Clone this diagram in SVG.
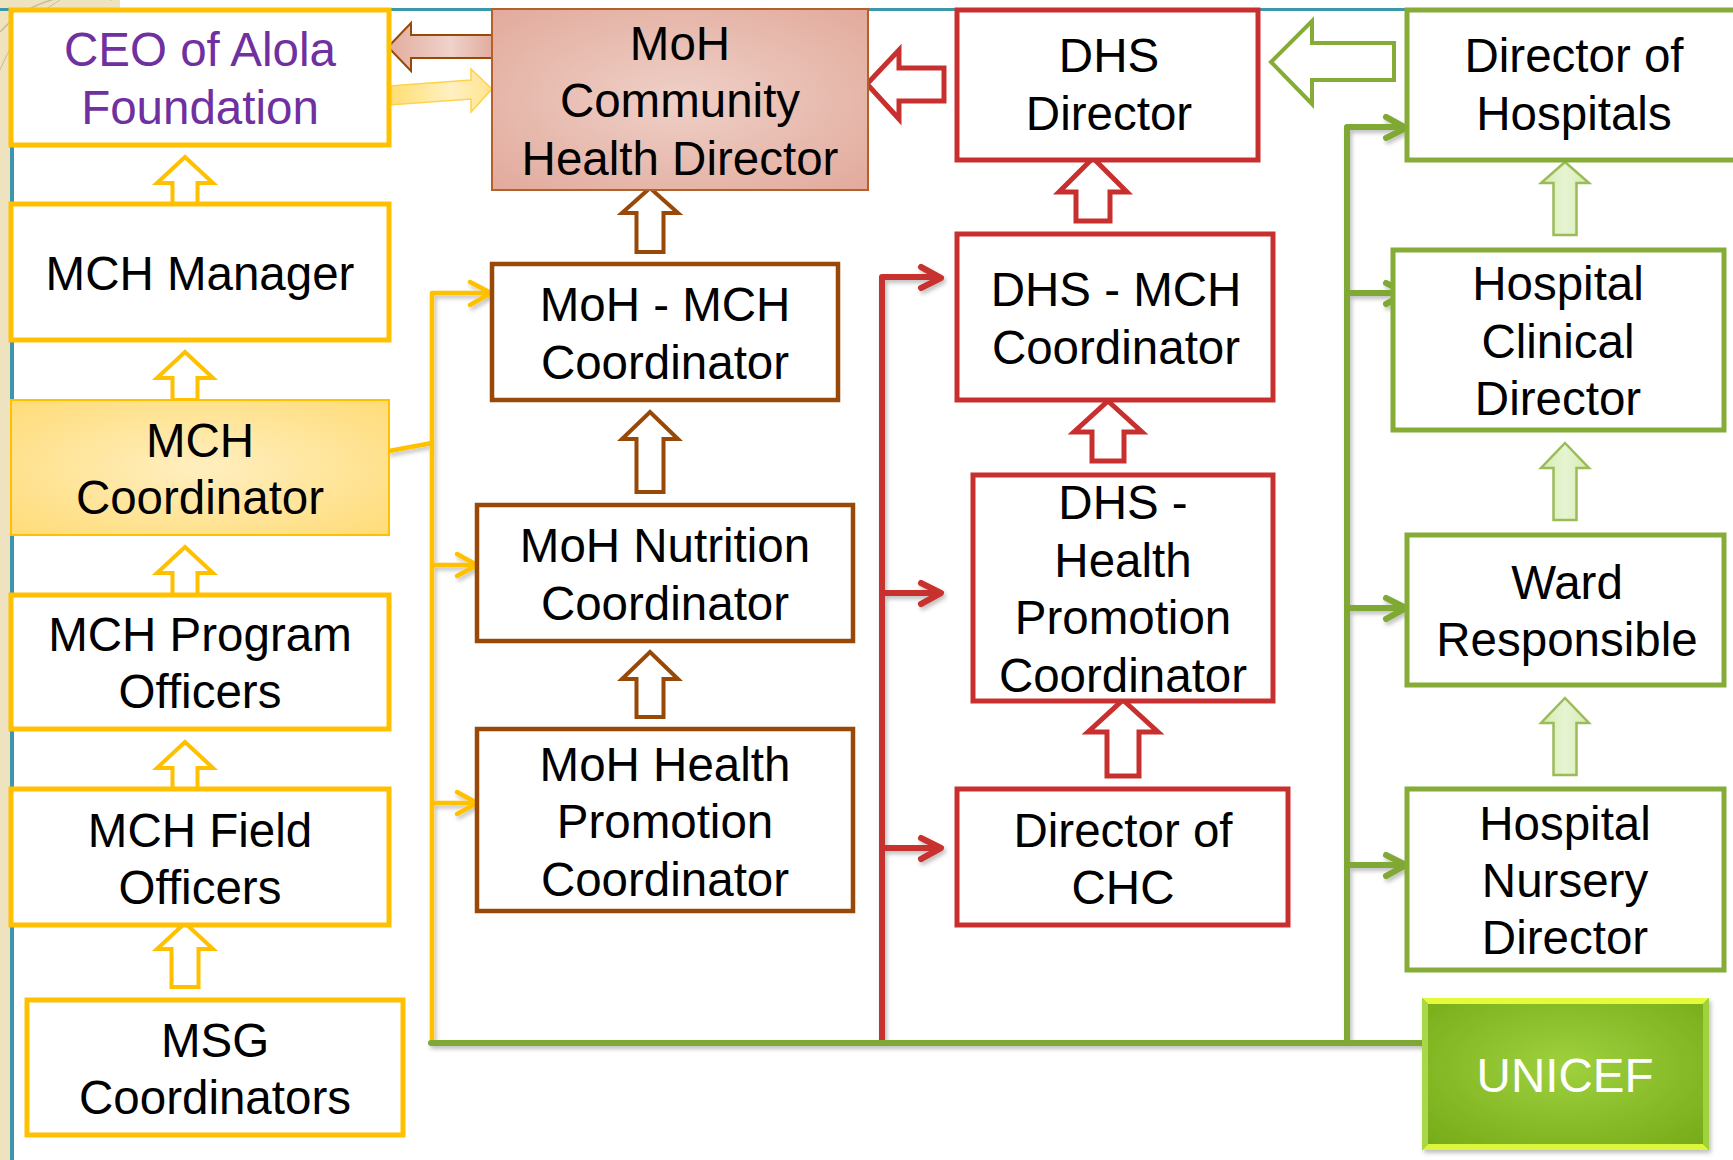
<svg xmlns="http://www.w3.org/2000/svg" width="1733" height="1160" viewBox="0 0 1733 1160">
<defs>
<style>
text{font-family:"Liberation Sans",Arial,sans-serif;font-size:47.5px;fill:#000;text-anchor:middle}
.yb{fill:#fff;stroke:#FFC000;stroke-width:5}
.bb{fill:#fff;stroke:#984807;stroke-width:4.5}
.rb{fill:#fff;stroke:#C8302F;stroke-width:5}
.gb{fill:#fff;stroke:#84AC36;stroke-width:5}
.ya{fill:#fff;stroke:#FFC000;stroke-width:4;stroke-linejoin:miter}
.ba{fill:#fff;stroke:#984807;stroke-width:4}
.ra{fill:#fff;stroke:#C8302F;stroke-width:5}
.ga{fill:url(#gGreenArrow);stroke:#9BBB59;stroke-width:2.5}
.cy{fill:none;stroke:#FFC000;stroke-width:4.5;stroke-linecap:round;stroke-linejoin:round}
.cr{fill:none;stroke:#C8302F;stroke-width:6;stroke-linecap:round;stroke-linejoin:round}
.cg{fill:none;stroke:#7FA834;stroke-width:6;stroke-linecap:round;stroke-linejoin:round}
</style>
<radialGradient id="gMCH" cx="0.5" cy="0.5" r="0.7">
<stop offset="0" stop-color="#FFEFC0"/><stop offset="1" stop-color="#FFDC78"/>
</radialGradient>
<radialGradient id="gMoH" cx="0.5" cy="0.5" r="0.7">
<stop offset="0" stop-color="#EFD0C7"/><stop offset="1" stop-color="#E2AA9C"/>
</radialGradient>
<linearGradient id="gPinkArrow" x1="0" y1="0" x2="1" y2="0">
<stop offset="0" stop-color="#E3AC9E"/><stop offset="0.6" stop-color="#EFD2CA"/><stop offset="1" stop-color="#E3AC9E"/>
</linearGradient>
<linearGradient id="gYellowArrow" x1="0" y1="0" x2="1" y2="0">
<stop offset="0" stop-color="#FFDE70"/><stop offset="0.6" stop-color="#FFF0C2"/><stop offset="1" stop-color="#FFE490"/>
</linearGradient>
<linearGradient id="gGreenArrow" x1="0" y1="0" x2="1" y2="0">
<stop offset="0" stop-color="#D4ECB0"/><stop offset="0.5" stop-color="#E6F4D2"/><stop offset="1" stop-color="#D4ECB0"/>
</linearGradient>
<radialGradient id="gUnicef" cx="0.5" cy="0.45" r="0.7">
<stop offset="0" stop-color="#9FD13E"/><stop offset="1" stop-color="#76AB18"/>
</radialGradient>
<filter id="sh" x="-10%" y="-10%" width="130%" height="130%">
<feDropShadow dx="2" dy="3" stdDeviation="2" flood-color="#000" flood-opacity="0.25"/>
</filter>
</defs>

<!-- background and frame decoration -->
<rect x="0" y="0" width="1733" height="1160" fill="#fff"/>
<rect x="0" y="0" width="11" height="1160" fill="#EFE2BE"/>
<rect x="0" y="0" width="120" height="9" fill="#EFE2BE"/>
<path d="M0,32 A110,110 0 0 1 112,0" fill="none" stroke="#C9BC9C" stroke-width="1.5"/>
<path d="M0,70 A140,140 0 0 1 60,0" fill="none" stroke="#C9BC9C" stroke-width="1"/>
<line x1="0" y1="9.5" x2="1733" y2="9.5" stroke="#3C97AC" stroke-width="3"/>
<line x1="12" y1="9" x2="12" y2="1160" stroke="#3C97AC" stroke-width="4"/>

<!-- connectors -->
<g id="connectors" filter="url(#sh)">
<path class="cy" d="M432,1043 V293 H488"/>
<path class="cy" d="M470,282 L491,293 L470,305"/>
<path class="cy" d="M432,565 H474"/>
<path class="cy" d="M457,554 L477,565 L457,576"/>
<path class="cy" d="M432,803 H474"/>
<path class="cy" d="M457,792 L477,803 L457,814"/>
<path class="cy" d="M389,451 L432,443"/>

<path class="cr" d="M882,1043 V277 H938"/>
<path class="cr" d="M921,267 L941,278 L921,288"/>
<path class="cr" d="M882,593 H938"/>
<path class="cr" d="M921,583 L941,593 L921,604"/>
<path class="cr" d="M882,848 H938"/>
<path class="cr" d="M921,838 L941,848 L921,859"/>

<path class="cg" d="M1347,1043 V127 H1403"/>
<path class="cg" d="M1386,117 L1406,128 L1386,138"/>
<path class="cg" d="M1347,293 H1403"/>
<path class="cg" d="M1386,283 L1406,293 L1386,304"/>
<path class="cg" d="M1347,608 H1403"/>
<path class="cg" d="M1386,598 L1406,608 L1386,619"/>
<path class="cg" d="M1347,865 H1403"/>
<path class="cg" d="M1386,855 L1406,865 L1386,876"/>
<path class="cg" d="M431,1043 H1422"/>
</g>

<!-- block arrows -->
<g id="block-arrows">
<path class="ya" d="M185,157 L213,183 L197.5,183 L197.5,204 L172.5,204 L172.5,183 L157,183 Z"/>
<path class="ya" d="M185,352 L213,378 L197.5,378 L197.5,400 L172.5,400 L172.5,378 L157,378 Z"/>
<path class="ya" d="M185,547 L213,573 L197.5,573 L197.5,595 L172.5,595 L172.5,573 L157,573 Z"/>
<path class="ya" d="M185,742 L213,768 L197.5,768 L197.5,789 L172.5,789 L172.5,768 L157,768 Z"/>
<path class="ya" d="M185,923 L213,949 L198.5,949 L198.5,987 L171.5,987 L171.5,949 L157,949 Z"/>

<path class="ba" d="M650,188 L678,213 L663.5,213 L663.5,252 L636.5,252 L636.5,213 L622,213 Z"/>
<path class="ba" d="M650,412 L678,439 L663.5,439 L663.5,492 L636.5,492 L636.5,439 L622,439 Z"/>
<path class="ba" d="M650,652 L678,679 L663.5,679 L663.5,717 L636.5,717 L636.5,679 L622,679 Z"/>

<path class="ra" d="M1093,158 L1127,192 L1110,192 L1110,221 L1076,221 L1076,192 L1059,192 Z"/>
<path class="ra" d="M1108,401 L1142,432 L1124,432 L1124,461 L1092,461 L1092,432 L1074,432 Z"/>
<path class="ra" d="M1123,700 L1158,732 L1139,732 L1139,776 L1107,776 L1107,732 L1088,732 Z"/>

<path class="ga" d="M1565,162 L1589,183 L1576.5,183 L1576.5,235 L1553.5,235 L1553.5,183 L1541,183 Z"/>
<path class="ga" d="M1565,443 L1589,468 L1576.5,468 L1576.5,520 L1553.5,520 L1553.5,468 L1541,468 Z"/>
<path class="ga" d="M1565,698 L1589,723 L1576.5,723 L1576.5,775 L1553.5,775 L1553.5,723 L1541,723 Z"/>

<path d="M388,47 L411,23 L411,35 L492,35 L492,58 L411,58 L411,71 Z" fill="url(#gPinkArrow)" stroke="#984807" stroke-width="2"/>
<path d="M389,86 L471,80 L471,69 L492,89 L471,112 L471,99 L389,105 Z" fill="url(#gYellowArrow)" stroke="#FFD24A" stroke-width="1.5"/>
<path class="ra" d="M867,84 L899,50 L899,68 L944,68 L944,101 L899,101 L899,119 Z"/>
<path d="M1271,62 L1312,21 L1312,43 L1394,43 L1394,80 L1312,80 L1312,104 Z" fill="#fff" stroke="#84AC36" stroke-width="4"/>
</g>

<!-- nodes: left column -->
<g id="ceo">
<rect class="yb" x="11" y="10" width="378" height="135"/>
<text x="200" y="66" fill="#7030A0" style="fill:#7030A0">CEO of Alola</text>
<text x="200" y="124" style="fill:#7030A0">Foundation</text>
</g>
<g id="mch-manager">
<rect class="yb" x="11" y="204" width="378" height="136"/>
<text x="200" y="290">MCH Manager</text>
</g>
<g id="mch-coordinator">
<rect x="11" y="400" width="378" height="135" fill="url(#gMCH)" stroke="#FFC000" stroke-width="2"/>
<text x="200" y="457">MCH</text>
<text x="200" y="514">Coordinator</text>
</g>
<g id="mch-program-officers">
<rect class="yb" x="11" y="595" width="378" height="134"/>
<text x="200" y="651">MCH Program</text>
<text x="200" y="708">Officers</text>
</g>
<g id="mch-field-officers">
<rect class="yb" x="11" y="789" width="378" height="136"/>
<text x="200" y="847">MCH Field</text>
<text x="200" y="904">Officers</text>
</g>
<g id="msg-coordinators">
<rect class="yb" x="27" y="1000" width="376" height="135"/>
<text x="215" y="1057">MSG</text>
<text x="215" y="1114">Coordinators</text>
</g>

<!-- nodes: MoH column -->
<g id="moh-chd">
<rect x="492" y="9" width="376" height="181" fill="url(#gMoH)" stroke="#B5602A" stroke-width="2"/>
<text x="680" y="60">MoH</text>
<text x="680" y="117">Community</text>
<text x="680" y="175">Health Director</text>
</g>
<g id="moh-mch">
<rect class="bb" x="492" y="264" width="346" height="136"/>
<text x="665" y="321">MoH - MCH</text>
<text x="665" y="379">Coordinator</text>
</g>
<g id="moh-nutrition">
<rect class="bb" x="477" y="505" width="376" height="136"/>
<text x="665" y="562">MoH Nutrition</text>
<text x="665" y="620">Coordinator</text>
</g>
<g id="moh-hp">
<rect class="bb" x="477" y="729" width="376" height="182"/>
<text x="665" y="781">MoH Health</text>
<text x="665" y="838">Promotion</text>
<text x="665" y="896">Coordinator</text>
</g>

<!-- nodes: DHS column -->
<g id="dhs-director">
<rect class="rb" x="957" y="10" width="301" height="150"/>
<text x="1109" y="72">DHS</text>
<text x="1109" y="130">Director</text>
</g>
<g id="dhs-mch">
<rect class="rb" x="957" y="234" width="316" height="166"/>
<text x="1116" y="306">DHS - MCH</text>
<text x="1116" y="364">Coordinator</text>
</g>
<g id="dhs-hp">
<rect class="rb" x="973" y="475" width="300" height="226"/>
<text x="1123" y="519">DHS -</text>
<text x="1123" y="577">Health</text>
<text x="1123" y="634">Promotion</text>
<text x="1123" y="692">Coordinator</text>
</g>
<g id="director-chc">
<rect class="rb" x="957" y="789" width="331" height="136"/>
<text x="1123" y="847">Director of</text>
<text x="1123" y="904">CHC</text>
</g>

<!-- nodes: hospital column -->
<g id="director-hospitals">
<rect class="gb" x="1407" y="10" width="340" height="150"/>
<text x="1574" y="72">Director of</text>
<text x="1574" y="130">Hospitals</text>
</g>
<g id="hospital-clinical">
<rect class="gb" x="1393" y="250" width="331" height="180"/>
<text x="1558" y="300">Hospital</text>
<text x="1558" y="358">Clinical</text>
<text x="1558" y="415">Director</text>
</g>
<g id="ward-responsible">
<rect class="gb" x="1407" y="535" width="317" height="150"/>
<text x="1567" y="599">Ward</text>
<text x="1567" y="656">Responsible</text>
</g>
<g id="hospital-nursery">
<rect class="gb" x="1407" y="789" width="317" height="181"/>
<text x="1565" y="840">Hospital</text>
<text x="1565" y="897">Nursery</text>
<text x="1565" y="954">Director</text>
</g>
<g id="unicef">
<rect x="1422" y="998" width="287" height="152" fill="url(#gUnicef)" filter="url(#sh)"/>
<polygon points="1422,998 1709,998 1703,1004 1428,1004" fill="#E4FA3A"/>
<polygon points="1422,1150 1709,1150 1703,1144 1428,1144" fill="#DDF53A"/>
<polygon points="1422,998 1428,1004 1428,1144 1422,1150" fill="#A8D84A"/>
<polygon points="1709,998 1703,1004 1703,1144 1709,1150" fill="#A0D23E"/>
<text x="1565" y="1092" style="fill:#fff">UNICEF</text>
</g>
</svg>
